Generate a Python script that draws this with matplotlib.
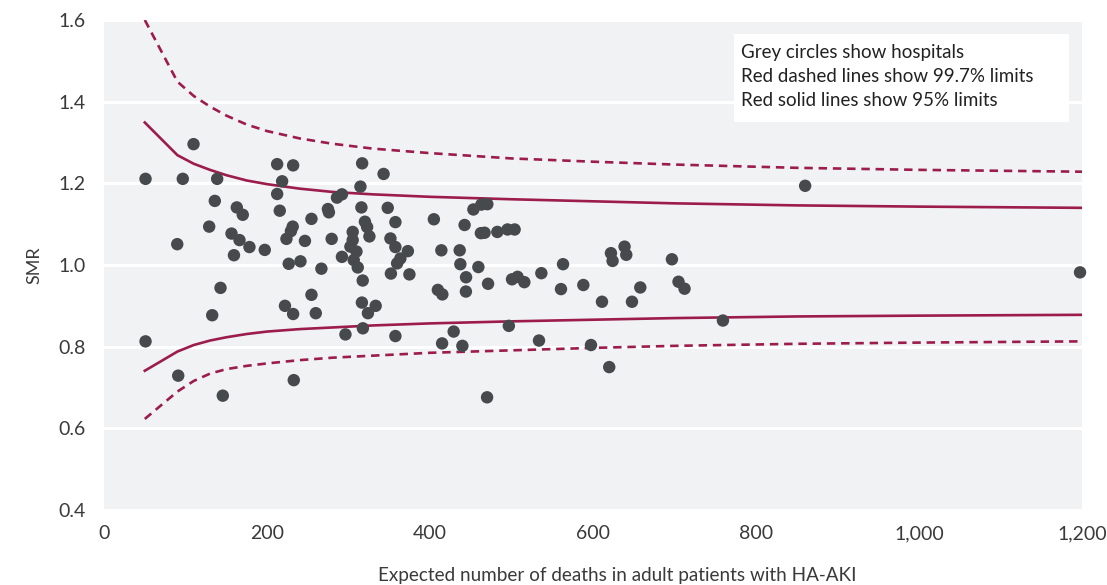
import numpy as np
import matplotlib.pyplot as plt
from matplotlib.patches import Rectangle

# hospital expected deaths and SMR
expected = [50.9, 50.9, 89.8, 91.0, 96.6, 109.8, 129.0, 132.7, 135.9, 138.8,
            142.9, 145.7, 156.4, 159.4, 162.9, 166.2, 170.2, 178.4, 197.2, 212.4,
            212.4, 215.6, 218.5, 222.0, 223.8, 226.6, 231.5, 229.3, 232.0, 232.0,
            232.8, 241.0, 246.5, 254.5, 254.5, 259.8, 266.7, 274.7, 275.9, 279.3,
            285.8, 291.9, 291.9, 296.2, 302.3, 305.1, 305.1, 306.4, 309.7, 311.3,
            314.6, 315.8, 316.7, 316.4, 317.4, 317.6, 320.1, 322.8, 323.8, 325.6,
            333.3, 343.0, 348.1, 351.4, 352.0, 357.5, 357.5, 363.6, 359.6, 357.5,
            372.8, 374.7, 404.7, 409.6, 415.1, 413.9, 414.8, 429.0, 436.4, 437.2,
            439.7, 442.4, 444.2, 444.0, 453.2, 463.0, 470.3, 459.3, 462.4, 466.9,
            470.0, 471.2, 482.6, 495.1, 503.8, 496.7, 500.6, 507.4, 515.7, 533.7,
            536.6, 560.7, 563.2, 588.1, 597.5, 611.0, 619.9, 622.0, 624.0, 638.7,
            640.8, 647.8, 658.0, 696.8, 704.9, 712.3, 759.4, 860.3, 1197.6]
smr = [1.211, 0.813, 1.051, 0.729, 1.211, 1.296, 1.094, 0.877, 1.157, 1.211,
       0.944, 0.680, 1.077, 1.024, 1.141, 1.061, 1.123, 1.044, 1.037, 1.247,
       1.174, 1.133, 1.205, 0.900, 1.064, 1.003, 1.094, 1.083, 1.244, 0.880,
       0.718, 1.009, 1.059, 1.113, 0.927, 0.882, 0.991, 1.137, 1.129, 1.064,
       1.165, 1.173, 1.020, 0.830, 1.045, 1.081, 1.061, 1.012, 1.033, 0.994,
       1.192, 1.141, 1.249, 0.908, 0.962, 0.845, 1.106, 1.093, 0.882, 1.070,
       0.900, 1.223, 1.140, 1.065, 0.979, 1.105, 1.044, 1.016, 1.004, 0.826,
       1.034, 0.977, 1.112, 0.939, 0.928, 1.036, 0.808, 0.837, 1.036, 1.002,
       0.802, 1.098, 0.970, 0.935, 1.136, 1.148, 1.149, 0.995, 1.078, 1.079,
       0.676, 0.954, 1.081, 1.087, 1.087, 0.851, 0.965, 0.971, 0.958, 0.815,
       0.980, 0.941, 1.002, 0.951, 0.804, 0.910, 0.750, 1.029, 1.010, 1.045,
       1.025, 0.910, 0.945, 1.014, 0.959, 0.942, 0.864, 1.194, 0.982]

# control limits
lim_x = [50, 90, 110, 130, 150, 175, 200, 240, 280, 330, 400, 500, 600, 700, 850, 1000, 1200]
upper_997 = [1.600, 1.449, 1.414, 1.388, 1.366, 1.344, 1.328, 1.310, 1.297, 1.285, 1.274,
             1.261, 1.253, 1.246, 1.238, 1.233, 1.2285]
upper_95 = [1.349, 1.269, 1.248, 1.233, 1.220, 1.207, 1.198, 1.187, 1.179, 1.173, 1.167,
            1.161, 1.156, 1.151, 1.146, 1.143, 1.140]
lower_95 = [0.741, 0.788, 0.804, 0.815, 0.823, 0.831, 0.837, 0.843, 0.847, 0.852, 0.857,
            0.862, 0.866, 0.870, 0.874, 0.876, 0.878]
lower_997 = [0.623, 0.690, 0.716, 0.734, 0.745, 0.753, 0.759, 0.767, 0.773, 0.778, 0.785,
             0.791, 0.797, 0.802, 0.807, 0.810, 0.813]

notes = ['Grey circles show hospitals',
         'Red dashed lines show 99.7% limits',
         'Red solid lines show 95% limits']

red = '#9c1c4c'
dotc = '#474a4c'
txtc = '#3a3a3a'

plt.rcParams['font.family'] = ['Lato', 'DejaVu Sans']

fig = plt.figure(figsize=(11.07, 5.85), dpi=100)
ax = fig.add_axes([0.094, 0.1282, 0.8834, 0.8376])
ax.set_facecolor('#f1f2f4')

dash = (0, (3.2, 2.2))
ax.plot(lim_x, upper_997, color=red, lw=1.9, ls=dash, zorder=2)
ax.plot(lim_x, lower_997, color=red, lw=1.9, ls=dash, zorder=2)
ax.plot(lim_x, upper_95, color=red, lw=1.9, zorder=2)
ax.plot(lim_x, lower_95, color=red, lw=1.9, zorder=2)

ax.scatter(expected, smr, s=80, color=dotc, edgecolors='none', zorder=3, clip_on=False)

ax.set_xlim(0, 1200)
ax.set_ylim(0.4, 1.6)
ax.set_xticks(np.arange(0, 1201, 200))
ax.set_xticklabels(['0', '200', '400', '600', '800', '1,000', '1,200'])
ax.set_yticks(np.arange(0.4, 1.61, 0.2))
ax.set_yticklabels(['0.4', '0.6', '0.8', '1.0', '1.2', '1.4', '1.6'])
ax.grid(axis='y', color='white', lw=2.2, zorder=1)
ax.set_axisbelow(True)
for s in ax.spines.values():
    s.set_visible(False)
ax.tick_params(length=0, labelsize=14, colors=txtc)
ax.tick_params(axis='x', pad=11)
ax.tick_params(axis='y', pad=13.5)

fig.text(0.031, 0.547, 'SMR', rotation=90, ha='center', va='center', fontsize=13, color=txtc)
fig.text(0.558, 0.017, 'Expected number of deaths in adult patients with HA-AKI',
         ha='center', va='center', fontsize=13.6, color=txtc)

# note box
ax.add_patch(Rectangle((0.644, 0.792), 0.343, 0.179, transform=ax.transAxes,
                       facecolor='white', edgecolor='none', zorder=4))
for i, line in enumerate(notes):
    ax.text(0.6513, 0.9347 - i * 0.049, line, transform=ax.transAxes,
            ha='left', va='center', fontsize=13.5, color='#222222', zorder=5)

fig.savefig('out.png', dpi=100)
